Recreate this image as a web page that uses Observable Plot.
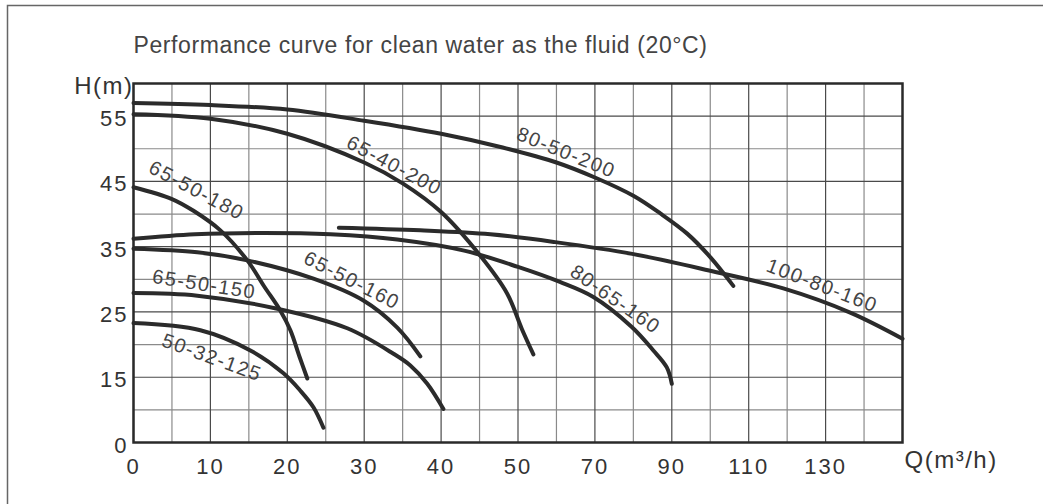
<!DOCTYPE html>
<html><head><meta charset="utf-8">
<script src="https://cdn.jsdelivr.net/npm/d3@7"></script>
<script src="https://cdn.jsdelivr.net/npm/@observablehq/plot@0.6"></script>
<style>
html,body{margin:0;padding:0;background:#fff;overflow:hidden}
svg g[font-size="20"] text{letter-spacing:1.5px}
svg g[font-size="22"] text{letter-spacing:2px}
svg g[font-size="23"] text{letter-spacing:0.6px}
svg g[font-size="24"] text{letter-spacing:1.5px}
</style>
</head><body><div id="chart"></div>
<script>
// Tick labels (axis values are non-uniform: the scales are piecewise)
const xTicks = [0, 10, 20, 30, 40, 50, 70, 90, 110, 130];
const xMinor = [5, 15, 25, 35, 45, 60, 80, 100, 120, 140];
const yTicks = [0, 15, 25, 35, 45, 55];
const yMinor = [7.5, 20, 30, 40, 50];

// Pump curves: [Q (m3/h), H (m)]
const c80_50_200 = [[0,57],[10,56.7],[20,56],[30,54.3],[40,52.3],[48,50.2],[60,47.9],[70,45.6],[80,42.8],[87,40.1],[94,37],[100,33.4],[106,29]];
const c65_40_200 = [[0,55.3],[10,54.6],[20,52.3],[30,47.9],[35,44.7],[40,40.3],[45.1,33.6],[48.6,27.8],[51,22.4],[54,18.5]];
const c65_50_180 = [[0,44.1],[5,42.3],[7.8,40.5],[11.3,37.5],[14.8,32.9],[17,28.9],[19.1,25.2],[20.4,22.2],[21.6,18.1],[22.6,14.7]];
const c100_80_160 = [[26.7,37.9],[37.3,37.5],[46.4,36.9],[59.7,35.7],[79.7,33.9],[99.7,31.35],[119,28.6],[136.4,24.9],[150,20.9]];
const c80_65_160 = [[0,36.2],[8,36.9],[17,37.1],[25.6,36.9],[34.3,36.1],[43,34.4],[50,31.9],[60.9,29.6],[69.6,27.3],[79.6,22.7],[85.2,19.1],[88.7,16.5],[90,13.5]];
const c65_50_160 = [[0,34.7],[8.3,34.15],[14.8,32.9],[23.4,30.1],[29.9,26.75],[34.3,22.6],[37.3,18.2]];
const c65_50_150 = [[0,27.9],[8.3,27.5],[18.7,25.5],[27.8,22.5],[33.8,18.6],[36,16.8],[38.2,13.5],[40.3,7.7]];
const c50_32_125 = [[0,23.3],[8.7,22.2],[15.2,19.1],[19.5,15.6],[21.7,11.9],[23.4,8.1],[24.7,3.4]];

const seriesNames = ["80-50-200","65-40-200","65-50-180","100-80-160","80-65-160","65-50-160","65-50-150","50-32-125"];
const seriesValues = [c80_50_200, c65_40_200, c65_50_180, c100_80_160, c80_65_160, c65_50_160, c65_50_150, c50_32_125];

// Curve label anchors (data coordinates) and rotation
const labelQ = [62.5, 33.9, 8.2, 129.1, 75.3, 28.4, 9.2, 10.2];
const labelH = [49.4, 47.4, 43.6, 29.0, 26.9, 29.8, 29.2, 18.0];
const labelAngle = [22, 28, 28, 21, 35, 27, 9, 20];

const titleText = "Performance curve for clean water as the fluid (20°C)";
const yLabel = "H(m)";
const xLabel = "Q(m³/h)";

const W = 1043, Hh = 504, mL = 133, mR = 141, mT = 83, mB = 62;

const curveData = seriesNames.flatMap((name, i) => seriesValues[i].map(([q, h]) => ({name, q, h})));
const labels = seriesNames.map((name, i) => ({name, q: labelQ[i], h: labelH[i], a: labelAngle[i]}));

const font = "'Liberation Sans', Arial, Helvetica, sans-serif";

const chart = Plot.plot({
  width: W, height: Hh,
  marginLeft: mL, marginRight: mR, marginTop: mT, marginBottom: mB,
  style: {fontFamily: font, background: "#fff", overflow: "visible"},
  x: {type: "linear", domain: [0, 50, 150], range: [mL, mL + (W - mL - mR) / 2, W - mR]},
  y: {type: "linear", domain: [0, 15, 60], range: [Hh - mB, Hh - mB - (Hh - mB - mT) * 2 / 11, mT]},
  marks: [
    Plot.frame({stroke: "#666", strokeWidth: 1.5, insetLeft: -126, insetTop: -78, insetRight: -160, insetBottom: -80}),
    Plot.ruleX(xMinor, {stroke: "#8a8a8a", strokeWidth: 1.2}),
    Plot.ruleY(yMinor, {stroke: "#8a8a8a", strokeWidth: 1.2}),
    Plot.ruleX(xTicks, {stroke: "#4a4a4a", strokeWidth: 1.2}),
    Plot.ruleY(yTicks, {stroke: "#4a4a4a", strokeWidth: 1.2}),
    Plot.frame({stroke: "#2a2a2a", strokeWidth: 2.5}),
    Plot.line(curveData, {x: "q", y: "h", z: "name", stroke: "#2b2b2b", strokeWidth: 4, curve: "catmull-rom"}),
    Plot.text(labels, {x: "q", y: "h", text: "name", rotate: "a", fontSize: 20, fill: "#444"}),
    Plot.axisX(xTicks, {tickSize: 0, tickPadding: 16, fontSize: 22, fill: "#333", label: null}),
    Plot.axisY(yTicks, {tickSize: 0, tickPadding: 5, dy: 3, fontSize: 22, fill: "#333", label: null}),
    Plot.text([titleText], {frameAnchor: "top-left", textAnchor: "start", dy: -47, fontSize: 23, fill: "#444"}),
    Plot.text([yLabel], {frameAnchor: "top-left", textAnchor: "end", dx: 0, dy: -7, fontSize: 24, fill: "#333"}),
    Plot.text([xLabel], {frameAnchor: "bottom-right", textAnchor: "start", dx: 2, dy: 25, fontSize: 24, fill: "#333"})
  ]
});
document.getElementById("chart").appendChild(chart);
</script>
</body></html>
